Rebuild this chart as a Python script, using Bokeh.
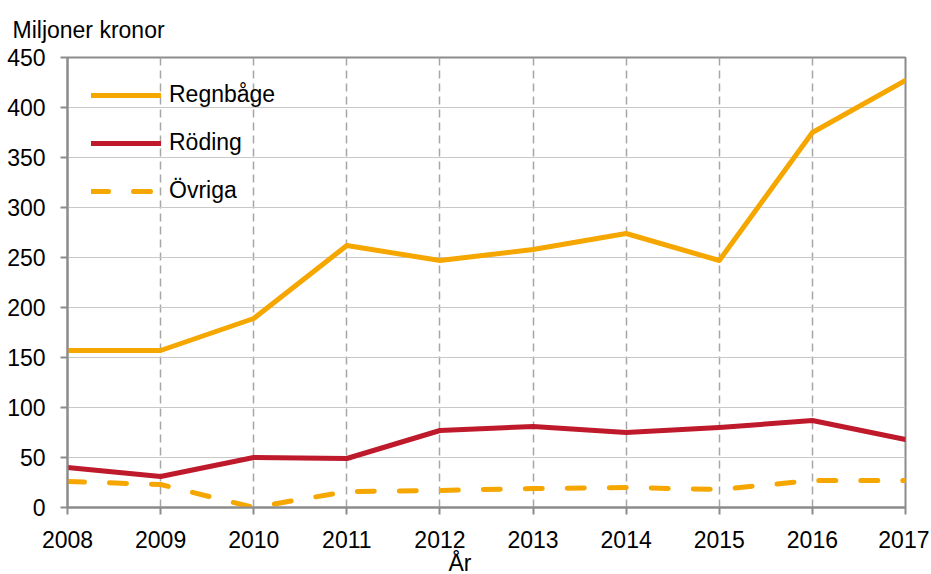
from bokeh.plotting import figure
from bokeh.models import Range1d, FixedTicker, Legend, LegendItem, Title, ColumnDataSource
from bokeh.embed import file_html
from bokeh.resources import INLINE

years = [2008, 2009, 2010, 2011, 2012, 2013, 2014, 2015, 2016, 2017]
regnbage = [157, 157, 189, 262, 247, 258, 274, 247, 375, 427]
roding = [40, 31, 50, 49, 77, 81, 75, 80, 87, 68]
ovriga = [26, 23, 0, 16, 17, 19, 20, 18, 27, 27]
y_ticks = [0, 50, 100, 150, 200, 250, 300, 350, 400, 450]

FONT = "Liberation Sans"
FS = "23px"
ORANGE = "#F5A700"
RED = "#BE1A2C"

p = figure(width=929, height=574, output_backend="svg", toolbar_location=None,
           x_range=Range1d(2008, 2017), y_range=Range1d(0, 450),
           min_border_left=67, min_border_right=24, min_border_top=57, min_border_bottom=67)

p.outline_line_color = "#8C8C8C"
p.outline_line_width = 2

for ax in (p.xaxis[0], p.yaxis[0]):
    ax.axis_line_color = "#8C8C8C"
    ax.axis_line_width = 2
    ax.major_tick_line_color = "#8C8C8C"
    ax.major_tick_line_width = 2
    ax.major_tick_in = 0
    ax.major_tick_out = 7
    ax.minor_tick_line_color = None
    ax.major_label_text_font = FONT
    ax.major_label_text_font_size = FS
    ax.major_label_text_color = "black"

p.xaxis.ticker = FixedTicker(ticks=years)
p.yaxis.ticker = FixedTicker(ticks=y_ticks)
p.xaxis.major_label_standoff = 16
p.yaxis.major_label_standoff = 15

p.xgrid.ticker = FixedTicker(ticks=years)
p.xgrid.grid_line_color = "#A6A6A6"
p.xgrid.grid_line_width = 1.5
p.xgrid.grid_line_dash = "8 5"
p.ygrid.ticker = FixedTicker(ticks=y_ticks)
p.ygrid.grid_line_color = "#C8C8C8"
p.ygrid.grid_line_width = 1

src = ColumnDataSource(dict(year=years, regnbage=regnbage, roding=roding, ovriga=ovriga))

r1 = p.line("year", "regnbage", source=src, line_color=ORANGE, line_width=5, line_cap="round", line_join="round")
r2 = p.line("year", "roding", source=src, line_color=RED, line_width=5, line_cap="round", line_join="round")
r3 = p.line("year", "ovriga", source=src, line_color=ORANGE, line_width=5, line_dash="17 25", line_cap="round", line_join="round")

legend = Legend(items=[LegendItem(label="Regnbåge", renderers=[r1]),
                       LegendItem(label="Röding", renderers=[r2]),
                       LegendItem(label="Övriga", renderers=[r3])],
                location="top_left", margin=24, padding=0, spacing=21,
                glyph_width=70, glyph_height=20, label_standoff=8,
                label_text_font=FONT, label_text_font_size=FS, label_text_color="black",
                background_fill_alpha=0, border_line_color=None)
p.add_layout(legend, "center")

unit_title = Title(text="Miljoner kronor", align="left", offset=-55, standoff=29,
                   text_font=FONT, text_font_size=FS, text_font_style="normal", text_color="black")
p.add_layout(unit_title, "above")

year_title = Title(text="År", align="left", offset=381, standoff=-6,
                   text_font=FONT, text_font_size=FS, text_font_style="normal", text_color="black")
p.add_layout(year_title, "below")

open("out.html", "w").write(file_html(p, INLINE))
